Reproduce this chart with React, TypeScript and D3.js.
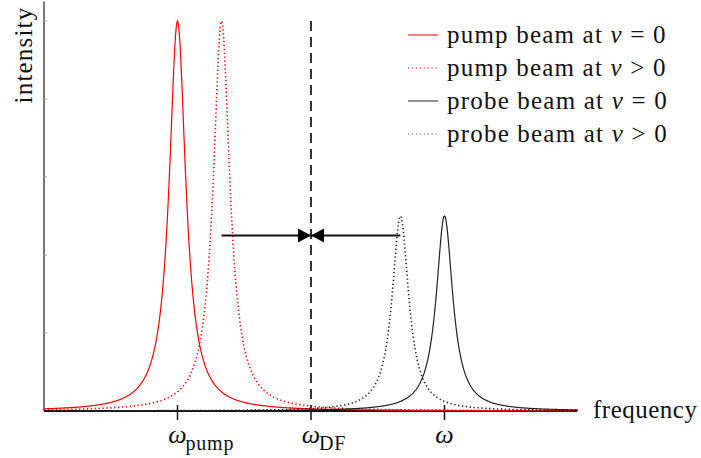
import React from "react";
import * as d3 from "d3";

// ---- data ----
const seriesLabels = ["pump beam at ", "pump beam at ", "probe beam at ", "probe beam at "];
const seriesConditions = ["= 0", "> 0", "= 0", "> 0"];
const seriesCenters = [1, 1.33, 3, 2.67];
const seriesAmplitudes = [1, 1, 0.5, 0.5];
const seriesWidths = [0.075, 0.075, 0.075, 0.075];
const seriesColors = ["#ff0000", "#ff0000", "#222222", "#222222"];
const seriesDotted = [false, true, false, true];
const legendColors = ["#ff5050", "#ff5050", "#707070", "#909090"];
const xTicks = [1, 2, 3];
const xTickSubs = ["pump", "DF", ""];
const yTicks = [0, 0.2, 0.4, 0.6, 0.8, 1.0];
const xDomain = [0, 4];
const yDomain = [0, 1.05];
const dfPosition = 2;
const arrowFrom = 1.33;
const arrowTo = 2.67;
const arrowLevel = 0.45;

const W = 701;
const H = 458;
const FONT = "'Liberation Serif', 'Times New Roman', serif";

export default function App() {
  const x = d3.scaleLinear().domain(xDomain).range([44, 578]);
  const y = d3.scaleLinear().domain(yDomain).range([411, 1.5]);
  const samples = d3.range(xDomain[0], xDomain[1] + 0.0001, 0.004);
  const line = d3
    .line<[number, number]>()
    .x((d) => x(d[0]))
    .y((d) => y(d[1]))
    .curve(d3.curveLinear);

  const paths = seriesCenters.map((c, i) => {
    const g = seriesWidths[i];
    const a = seriesAmplitudes[i];
    const pts: [number, number][] = samples.map((f) => [f, a / (1 + ((f - c) / g) ** 2)]);
    return line(pts) as string;
  });

  const xdf = x(dfPosition);
  const ay = y(arrowLevel);
  const tri = 13;
  const triH = 7;

  return (
    <svg
      width={W}
      height={H}
      style={{ position: "absolute", left: 0, top: 0, background: "#fff" }}
      fontFamily={FONT}
    >
      {/* y axis */}
      <line x1={x(0)} x2={x(0)} y1={y(yDomain[1])} y2={y(0)} stroke="#777" strokeWidth={2} />
      {yTicks.map((t) => (
        <line key={t} x1={x(0)} x2={x(0) + 3} y1={y(t)} y2={y(t)} stroke="#999" strokeWidth={1} />
      ))}
      {/* x axis */}
      <line x1={x(0)} x2={577} y1={y(0)} y2={y(0)} stroke="#111" strokeWidth={2} />
      {xTicks.map((t) => (
        <line key={t} x1={x(t)} x2={x(t)} y1={y(0) - 6} y2={y(0) + 9} stroke="#111" strokeWidth={1.5} />
      ))}
      {/* dashed DF line */}
      <line
        x1={xdf}
        x2={xdf}
        y1={y(1)}
        y2={y(0)}
        stroke="#333"
        strokeWidth={2}
        strokeDasharray="10 6"
      />
      {/* curves */}
      {paths.map((p, i) => (
        <path
          key={i}
          d={p}
          fill="none"
          stroke={seriesColors[i]}
          strokeWidth={seriesDotted[i] ? 1.6 : 1.2}
          strokeDasharray={seriesDotted[i] ? "1.3 2.6" : undefined}
        />
      ))}
      {/* arrow */}
      <line x1={x(arrowFrom)} x2={x(arrowTo)} y1={ay} y2={ay} stroke="#111" strokeWidth={2} />
      <path d={`M${xdf - tri},${ay - triH} L${xdf},${ay} L${xdf - tri},${ay + triH} Z`} fill="#000" />
      <path d={`M${xdf + tri},${ay - triH} L${xdf},${ay} L${xdf + tri},${ay + triH} Z`} fill="#000" />
      {/* tick labels */}
      {xTicks.map((t, i) => (
        <g key={t}>
          <text x={x(t)} y={443} textAnchor="middle" fontSize={26} fontStyle="italic" fill="#111">
            ω
          </text>
          {xTickSubs[i] && (
            <text x={x(t) + 8} y={450} fontSize={20} letterSpacing={0.8} fill="#111">
              {xTickSubs[i]}
            </text>
          )}
        </g>
      ))}
      {/* axis titles */}
      <text x={593} y={418} fontSize={25} letterSpacing={0.5} fill="#111">
        frequency
      </text>
      <text
        transform="translate(32,55) rotate(-90)"
        textAnchor="middle"
        fontSize={25}
        letterSpacing={1.2}
        fill="#111"
      >
        intensity
      </text>
      {/* legend */}
      {seriesLabels.map((lab, i) => {
        const by = 43 + i * 33;
        return (
          <g key={i}>
            <line
              x1={408}
              x2={438}
              y1={by - 8}
              y2={by - 8}
              stroke={legendColors[i]}
              strokeWidth={seriesDotted[i] ? 1.6 : 1.5}
              strokeDasharray={seriesDotted[i] ? "1.3 2.6" : undefined}
            />
            <text x={447} y={by} fontSize={25} letterSpacing={1.2} fill="#111">
              {lab}
              <tspan fontStyle="italic">ν</tspan>
              {" " + seriesConditions[i]}
            </text>
          </g>
        );
      })}
    </svg>
  );
}
